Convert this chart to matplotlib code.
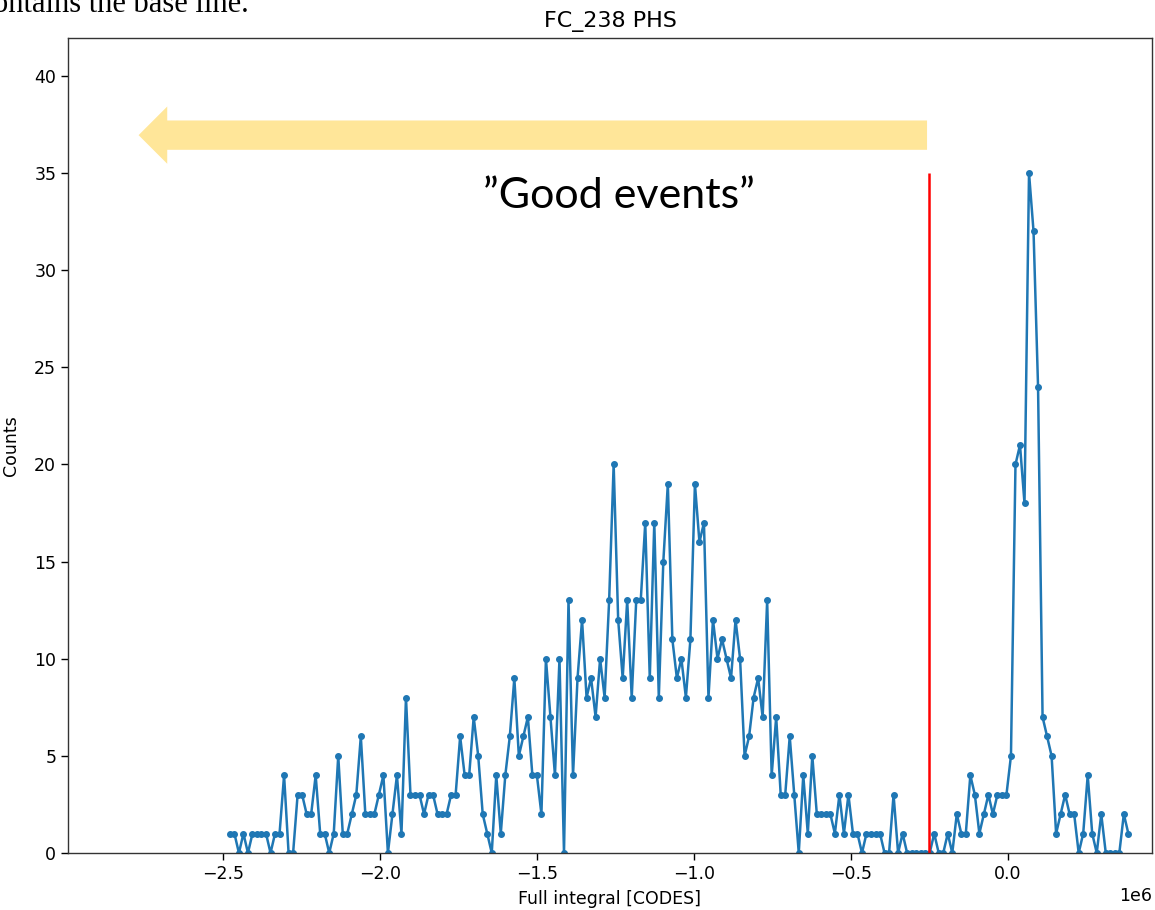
import numpy as np
import matplotlib
matplotlib.use("Agg")
import matplotlib.pyplot as plt
from matplotlib.patches import FancyArrow

# ---- data ----
bin_first = -2.479e6      # centre of the first histogram bin
bin_width = 0.01439e6     # histogram bin width
counts = [
    1, 1, 0, 1, 0, 1, 1, 1, 1, 0,
    1, 1, 4, 0, 0, 3, 3, 2, 2, 4,
    1, 1, 0, 1, 5, 1, 1, 2, 3, 6,
    2, 2, 2, 3, 4, 0, 2, 4, 1, 8,
    3, 3, 3, 2, 3, 3, 2, 2, 2, 3,
    3, 6, 4, 4, 7, 5, 2, 1, 0, 4,
    1, 4, 6, 9, 5, 6, 7, 4, 4, 2,
    10, 7, 4, 10, 0, 13, 4, 9, 12, 8,
    9, 7, 10, 8, 13, 20, 12, 9, 13, 8,
    13, 13, 17, 9, 17, 8, 15, 19, 11, 9,
    10, 8, 11, 19, 16, 17, 8, 12, 10, 11,
    10, 9, 12, 10, 5, 6, 8, 9, 7, 13,
    4, 7, 3, 3, 6, 3, 0, 4, 1, 5,
    2, 2, 2, 2, 1, 3, 1, 3, 1, 1,
    0, 1, 1, 1, 1, 0, 0, 3, 0, 1,
    0, 0, 0, 0, 0, 0, 1, 0, 0, 1,
    0, 2, 1, 1, 4, 3, 1, 2, 3, 2,
    3, 3, 3, 5, 20, 21, 18, 35, 32, 24,
    7, 6, 5, 1, 2, 3, 2, 2, 0, 1,
    4, 1, 0, 2, 0, 0, 0, 0, 2, 1,
]
cut_value = -0.25e6
cut_top = 35
title = "FC_238 PHS"
xlabel = "Full integral [CODES]"
ylabel = "Counts"
note = "\u201dGood events\u201d"
page_text = "ontains the base line."

x = bin_first + bin_width * np.arange(len(counts))

fig = plt.figure(figsize=(11.55, 9.10), dpi=100)
ax = fig.add_axes([68 / 1155, 1 - 853 / 910, (1152 - 68) / 1155, (853 - 38) / 910])

ax.plot(x, counts, marker='.', color='#1f77b4', lw=1.8, ms=8)
ax.vlines(cut_value, 0, cut_top, color='red', lw=1.8)

ax.set_xlim(-2.995e6, 0.46e6)
ax.set_ylim(0, 41.95)
ax.set_yticks(np.arange(0, 41, 5))
ax.set_xticks(np.arange(-2.5e6, 0.1e6, 0.5e6))

ax.set_title(title, fontsize=16, pad=8)
ax.set_xlabel(xlabel, fontsize=12.5, labelpad=5)
ax.set_ylabel(ylabel, fontsize=12.5, labelpad=10)
ax.tick_params(labelsize=12.5, length=5, width=1)
ax.xaxis.get_offset_text().set_fontsize(12.5)
for s in ax.spines.values():
    s.set_linewidth(1.0)
    s.set_color('#333333')

# overlay arrow and note
arr = FancyArrow(-0.257e6, 36.95, -2.513e6, 0, width=1.51, head_width=2.95,
                 head_length=0.0913e6, length_includes_head=True,
                 color='#FFE699', lw=0, clip_on=False, zorder=5)
ax.add_patch(arr)
ax.text(-1.24e6, 33.2, note, ha='center', va='baseline', fontsize=31,
        family='Lato', color='black')

fig.text(-0.006, 1 - 12 / 910, page_text, ha='left', va='baseline',
         fontsize=22, family='Liberation Serif', color='black')

fig.savefig("out.png", dpi=100)
